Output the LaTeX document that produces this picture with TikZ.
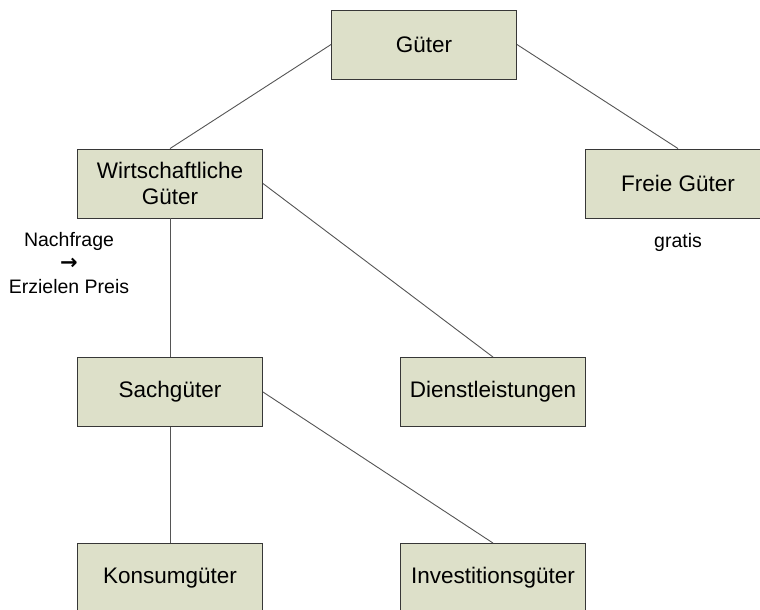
\documentclass[tikz,border=0pt]{standalone}
\usepackage{fontspec}
\setmainfont{Liberation Sans}
\newfontfamily\arrowfont{DejaVu Sans}
\definecolor{boxfill}{RGB}{221,224,201}
\definecolor{boxline}{RGB}{55,55,55}
\definecolor{linegray}{RGB}{85,85,85}

\begin{document}
\begin{tikzpicture}[x=1pt, y=-1pt,
    box/.style={draw=boxline, fill=boxfill, line width=0.9pt, minimum width=185pt, minimum height=69pt, inner sep=0pt, align=center, font=\fontsize{22.5}{26}\selectfont},
    note/.style={align=center, inner sep=0pt, font=\fontsize{19.5}{23.5}\selectfont},
    link/.style={draw=linegray, line width=0.9pt}]
    \useasboundingbox (0,0) rectangle (760,610);
    \clip (0,0) rectangle (760,610);

    % Boxes
    \node[box] (gueter) at (424,44.5) {Güter};
    \node[box] (wirt) at (170,183.5) {Wirtschaftliche\\Güter};
    \node[box] (freie) at (678,183.5) {Freie Güter};
    \node[box] (sach) at (170,392) {Sachgüter};
    \node[box] (dienst) at (493,392) {Dienstleistungen};
    \node[box] (konsum) at (170,578) {Konsumgüter};
    \node[box] (invest) at (493,578) {Investitionsgüter};

    % Notes
    \node[note] (nachfrage) at (69,263) {Nachfrage\\{\arrowfont\bfseries\fontsize{21}{23.5}\selectfont →}\\Erzielen Preis};
    \node[note] (gratis) at (678,242) {gratis};

    % Connectors
    \draw[link] (gueter.west) -- (wirt.north);
    \draw[link] (gueter.east) -- (freie.north);
    \draw[link] (wirt.south) -- (sach.north);
    \draw[link] (wirt.east) -- (dienst.north);
    \draw[link] (sach.south) -- (konsum.north);
    \draw[link] (sach.east) -- (invest.north);
\end{tikzpicture}
\end{document}
